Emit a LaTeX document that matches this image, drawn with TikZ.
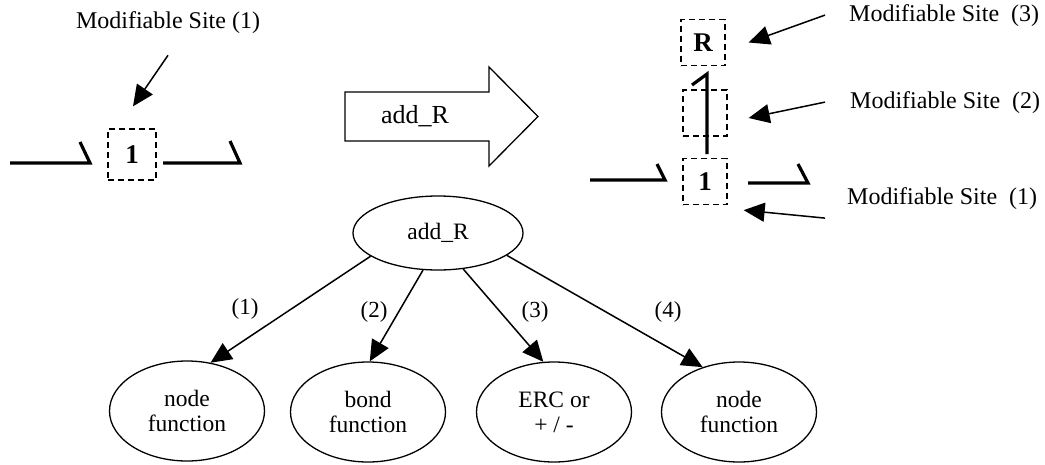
\documentclass[tikz,border=0pt]{standalone}
\usepackage{fontspec}
\setmainfont{Liberation Serif}
\usetikzlibrary{positioning,arrows.meta,shapes.geometric}

\tikzset{
  site/.style={draw, dash pattern=on 6pt off 4pt, line width=1.3pt, minimum width=44pt, minimum height=46pt, inner sep=0pt, font=\fontsize{27}{30}\selectfont\bfseries},
  bond/.style={line width=3.2pt},
  pointer/.style={line width=1.5pt, arrows={-Triangle[length=21pt,width=19pt]}},
  txt/.style={inner sep=0pt, font=\fontsize{23}{25}\selectfont},
  sitetxt/.style={txt, font=\fontsize{24}{26}\selectfont},
  func/.style={ellipse, draw, line width=1.3pt, minimum width=155pt, minimum height=100pt, inner sep=0pt, align=center, font=\fontsize{23.5}{25}\selectfont},
}

\begin{document}
\begin{tikzpicture}[x=1pt,y=-1pt]
  \useasboundingbox (0,0) rectangle (1045,464);

  % before: one site
  \node[site, minimum width=48pt, minimum height=51pt] (s1) at (132,154.5) {1};
  \node[sitetxt, anchor=base] (lab1) at (168,28) {Modifiable Site (1)};
  \draw[pointer] ([yshift=-22pt]lab1.south) -- ([xshift=1pt,yshift=22pt]s1.north);
  \draw[bond] (10,163) -- (90,163) -- (80,142);
  \draw[bond] (163,163) -- (240,163) -- (230,141);

  % operator
  \draw[line width=1.3pt] (345,92) -- (489,92) -- (489,67) -- (538,116.5) -- (489,166) -- (489,141) -- (345,141) -- cycle;
  \node[txt, font=\fontsize{26}{28}\selectfont] (op) at (415,116) {add\_R};

  % after: three sites
  \node[site] (r3) at (703,42.5) {R};
  \node[site] (r2) at (705,113) {};
  \node[site] (r1) at (705,181.5) {1};
  \draw[bond] (707,154) -- (707,74) -- (692,85);
  \draw[bond] (590,180) -- (665,180) -- (657,164);
  \draw[bond] (748,183) -- (808,183) -- (798,164);

  \node[sitetxt, anchor=base west] (m3) at (849,21) {Modifiable Site\ \ (3)};
  \node[sitetxt, anchor=base west] (m2) at (850,108) {Modifiable Site\ \ (2)};
  \node[sitetxt, anchor=base west] (m1) at (847,204) {Modifiable Site\ \ (1)};
  \draw[pointer] ([xshift=-24pt]m3.west) -- ([xshift=23pt]r3.east);
  \draw[pointer] ([xshift=-25pt]m2.west) -- ([xshift=21pt,yshift=-5pt]r2.east);
  \draw[pointer] ([xshift=-22pt,yshift=-20pt]m1.west) -- ([xshift=16pt,yshift=-5pt]r1.south east);

  % tree of add_R
  \node[func, minimum width=170pt, minimum height=74pt] (root) at (438,233) {add\_R};
  \node[func] (f1) at (187,411) {node\\function};
  \node[func] (f2) at (368,412) {bond\\function};
  \node[func] (f3) at (554,412) {ERC or\\+ / -};
  \node[func] (f4) at (739,412) {node\\function};

  \draw[pointer] (root.199) -- (f1.64);
  \draw[pointer] (root.248) -- (f2.88);
  \draw[pointer] (root.305) -- (f3.102);
  \draw[pointer] (root.342) -- (f4.129);

  \node[txt] (c1) at (245,309) {(1)};
  \node[txt] (c2) at (374,312) {(2)};
  \node[txt] (c3) at (535,312) {(3)};
  \node[txt] (c4) at (668,312) {(4)};

\end{tikzpicture}
\end{document}
